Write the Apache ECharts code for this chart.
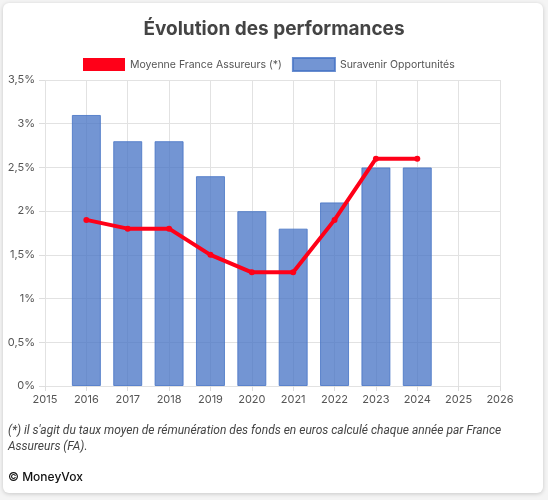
<!DOCTYPE html>
<html>
<head>
<meta charset="utf-8">
<script src="https://cdn.jsdelivr.net/npm/echarts@6/dist/echarts.min.js"></script>
<style>
  html, body { margin: 0; padding: 0; background: #f4f4f4; }
  #card {
    position: absolute; left: 3px; top: 3px; width: 540px; height: 490px;
    background: #fff; border-radius: 6px;
    box-shadow: 0 1px 4px rgba(0,0,0,0.18);
  }
  #chart { position: absolute; left: 0; top: 0; width: 548px; height: 500px; }
</style>
</head>
<body>
<div id="card"></div>
<div id="chart"></div>
<script>
// années et valeurs (en %)
var years = [2016, 2017, 2018, 2019, 2020, 2021, 2022, 2023, 2024];
var suravenir = [3.1, 2.8, 2.8, 2.4, 2.0, 1.8, 2.1, 2.5, 2.5];
var moyenneFA = [1.9, 1.8, 1.8, 1.5, 1.3, 1.3, 1.9, 2.6, 2.6];
var xMin = 2015, xMax = 2026;
var yTicks = [0, 0.5, 1, 1.5, 2, 2.5, 3, 3.5];

var FONT = 'Inter';

function pairs(vals) {
    var out = [];
    for (var i = 0; i < years.length; i++) {
        out.push([years[i], vals[i]]);
    }
    return out;
}

var myChart = echarts.init(document.getElementById('chart'));
var option = {
    textStyle: { fontFamily: FONT },
    title: {
        text: 'Évolution des performances',
        left: 'center',
        top: 15,
        textStyle: { fontSize: 19, fontWeight: 'bold', color: '#444', fontFamily: FONT }
    },
    legend: {
        top: 52,
        left: 78,
        itemWidth: 42,
        itemHeight: 13,
        itemGap: 10,
        textStyle: { fontSize: 10.5, color: '#555' },
        data: [
            { name: 'Moyenne France Assureurs (*)', icon: 'rect', itemStyle: { color: '#ff0018' } },
            { name: 'Suravenir Opportunités', icon: 'rect' }
        ]
    },
    grid: { left: 45, right: 48, top: 80, bottom: 114, outerBoundsMode: 'none', containLabel: false },
    xAxis: {
        type: 'value',
        min: xMin,
        max: xMax,
        interval: 1,
        axisLine: { show: false },
        axisTick: { show: true, length: 5, lineStyle: { color: '#ddd' } },
        axisLabel: {
            color: '#555', fontSize: 11, margin: 8,
            formatter: function (v) { return String(v); }
        },
        splitLine: { show: true, lineStyle: { color: '#e2e2e2' } }
    },
    yAxis: {
        type: 'value',
        min: 0,
        max: yTicks[yTicks.length - 1],
        interval: 0.5,
        axisLine: { show: false },
        axisTick: { show: true, length: 6, lineStyle: { color: '#ddd' } },
        axisLabel: {
            color: '#555', fontSize: 11, margin: 10,
            formatter: function (v) { return String(v).replace('.', ',') + '%'; }
        },
        splitLine: { show: true, lineStyle: { color: '#e2e2e2' } }
    },
    series: [
        {
            name: 'Moyenne France Assureurs (*)',
            type: 'line',
            data: pairs(moyenneFA),
            z: 3,
            symbol: 'circle',
            symbolSize: 6,
            lineStyle: { color: '#ff0018', width: 4 },
            itemStyle: { color: '#ff0018' }
        },
        {
            name: 'Suravenir Opportunités',
            type: 'bar',
            data: pairs(suravenir),
            barWidth: 29,
            z: 2,
            itemStyle: {
                color: 'rgba(68,114,196,0.75)',
                borderColor: 'rgba(68,114,196,0.8)',
                borderWidth: 1
            }
        }
    ],
    graphic: [
        {
            type: 'text', left: 8, top: 423,
            style: {
                text: "(*) il s'agit du taux moyen de rémunération des fonds en euros calculé chaque année par France\nAssureurs (FA).",
                font: 'italic 12px Roboto', fill: '#444', lineHeight: 16
            }
        },
        {
            type: 'text', left: 8, top: 471,
            style: { text: '© MoneyVox', font: '500 12px ' + FONT, fill: '#111' }
        }
    ]
};
myChart.setOption(option);
</script>
</body>
</html>
